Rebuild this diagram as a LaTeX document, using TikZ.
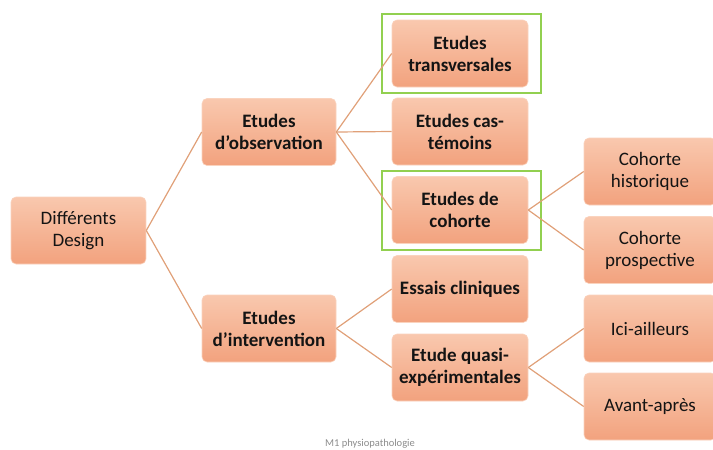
\documentclass[tikz,border=0pt]{standalone}
\usepackage{fontspec}
\setmainfont{Carlito}
\definecolor{boxtop}{HTML}{F9C8AE}
\definecolor{boxbot}{HTML}{F2A27E}
\definecolor{linkc}{HTML}{E0A078}
\definecolor{greenc}{HTML}{92D050}
\definecolor{txt}{HTML}{141414}
\tikzset{
  box/.style={rounded corners=5pt, top color=boxtop, bottom color=boxbot, draw=boxtop!80!white, line width=0.6pt,
    minimum width=#1, minimum height=67pt, align=center, text=txt, font=\fontsize{19}{22}\selectfont, inner sep=1pt},
  box/.default=134pt,
  bbox/.style={box=#1, font=\fontsize{19}{22}\selectfont\bfseries},
  bbox/.default=134pt,
  link/.style={draw=linkc, line width=1.2pt},
  hl/.style={draw=greenc, line width=2.8pt}
}
\begin{document}
\begin{tikzpicture}[x=1pt,y=-1pt]
\useasboundingbox (0,0) rectangle (713,450);
% level 1
\node[box=135pt] (root) at (78.5,230.5) {Différents\\Design};
% level 2
\node[bbox] (obs) at (269,132) {Etudes\\d’observation};
\node[bbox] (int) at (269,328.5) {Etudes\\d’intervention};
% level 3
\node[bbox=136pt] (trans) at (460,53.5) {Etudes\\transversales};
\node[bbox=136pt] (cas) at (460,131.5) {Etudes cas-\\témoins};
\node[bbox=136pt] (coh) at (460,210) {Etudes de\\cohorte};
\node[bbox=136pt] (ess) at (460,289) {Essais cliniques};
\node[bbox=136pt] (quasi) at (460,367.5) {Etude quasi-\\expérimentales};
% level 4
\node[box=132pt] (hist) at (650,171.5) {Cohorte\\historique};
\node[box=132pt] (prosp) at (650,250) {Cohorte\\prospective};
\node[box=132pt] (ici) at (650,328.5) {Ici-ailleurs};
\node[box=132pt] (avant) at (650,406.5) {Avant-après};
% highlight frames
\node[hl, minimum width=159pt, minimum height=79pt, inner sep=0pt] (hlt) at (461.5,53.5) {};
\node[hl, minimum width=159pt, minimum height=79pt, inner sep=0pt] (hlc) at (461.5,210.5) {};
% connectors
\draw[link] (root.east) -- (obs.west);
\draw[link] (root.east) -- (int.west);
\draw[link] (obs.east) -- (trans.west);
\draw[link] (obs.east) -- (cas.west);
\draw[link] (obs.east) -- (coh.west);
\draw[link] (int.east) -- (ess.west);
\draw[link] (int.east) -- (quasi.west);
\draw[link] (coh.east) -- (hist.west);
\draw[link] (coh.east) -- (prosp.west);
\draw[link] (quasi.east) -- (ici.west);
\draw[link] (quasi.east) -- (avant.west);
% footer
\node[text=black!45, font=\fontsize{10.5}{12}\selectfont, anchor=south, inner sep=1pt] (foot) at (370,450) {M1 physiopathologie};
\end{tikzpicture}
\end{document}
